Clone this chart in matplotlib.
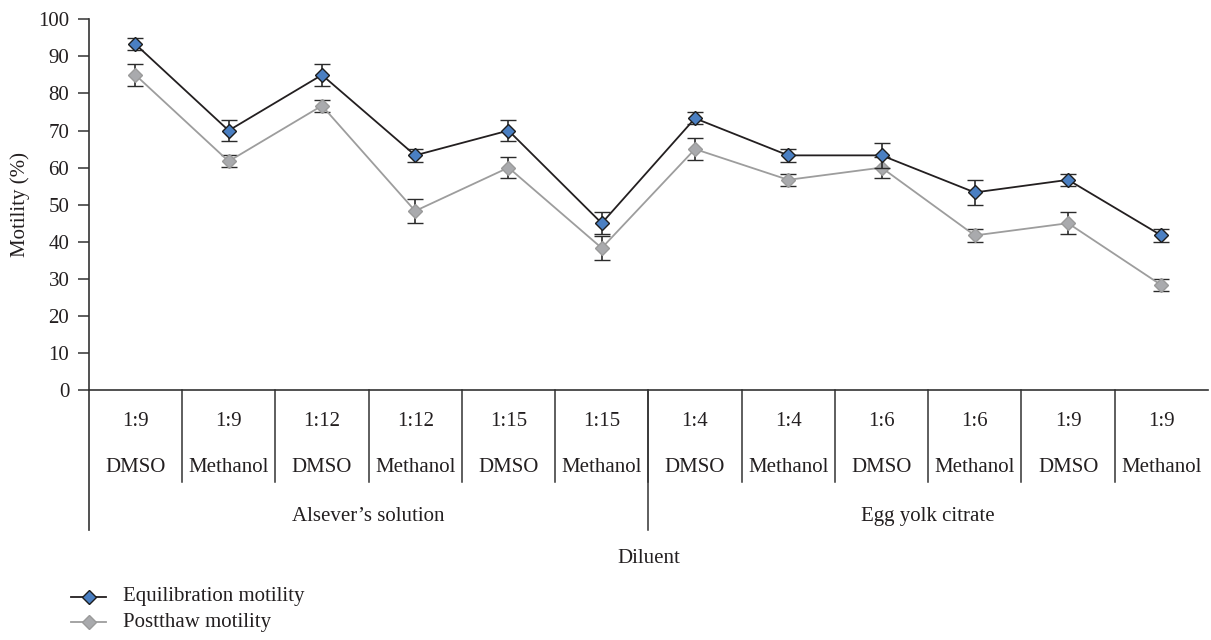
import matplotlib
matplotlib.use("Agg")
import matplotlib.pyplot as plt
from matplotlib.lines import Line2D

# Categories: ratio, cryoprotectant, diluent group
ratios = ["1:9", "1:9", "1:12", "1:12", "1:15", "1:15",
          "1:4", "1:4", "1:6", "1:6", "1:9", "1:9"]
cryo = ["DMSO", "Methanol"] * 6
groups = ["Alsever\u2019s solution", "Egg yolk citrate"]
group_sizes = [6, 6]

equil_mean = [93.3, 70.0, 85.0, 63.3, 70.0, 45.0, 73.3, 63.3, 63.3, 53.3, 56.7, 41.7]
equil_err = [1.67, 2.89, 2.89, 1.67, 2.89, 2.89, 1.67, 1.67, 3.33, 3.33, 1.67, 1.67]
post_mean = [85.0, 61.7, 76.7, 48.3, 60.0, 38.3, 65.0, 56.7, 60.0, 41.7, 45.0, 28.3]
post_err = [2.89, 1.67, 1.67, 3.33, 2.89, 3.33, 2.89, 1.67, 2.89, 1.67, 2.89, 1.67]

series_names = ["Equilibration motility", "Postthaw motility"]
yticks = list(range(0, 101, 10))

plt.rcParams["font.family"] = ["Liberation Serif", "DejaVu Serif"]
FS = 15

text_col = "#231f20"
W, H = 1211, 640
fig = plt.figure(figsize=(W / 100, H / 100), dpi=100)
ax = fig.add_axes([0.0733, 0.3906, 0.9242, 0.5792])

n = len(ratios)
x = [i + 0.5 for i in range(n)]

equil_style = dict(color="#231f20", lw=1.3, marker="D", ms=7.2,
                   mfc="#4a7fc2", mec="#1d1d1d", mew=1.0)
post_style = dict(color="#9d9d9d", lw=1.3, marker="D", ms=7.2,
                  mfc="#a9aaad", mec="#9a9a9a", mew=1.0)
err_style = dict(ecolor="#2b2b2b", elinewidth=1.2, capsize=6, capthick=1.2)

ax.errorbar(x, equil_mean, yerr=equil_err, zorder=4, **equil_style, **err_style)
ax.errorbar(x, post_mean, yerr=post_err, zorder=3, **post_style, **err_style)

ax.set_xlim(0, n)
ax.set_ylim(0, 100)
ax.set_yticks(yticks)
ax.tick_params(axis="y", direction="out", length=8, width=1.1, color="#333333",
               labelcolor=text_col, labelsize=FS, pad=6)
ax.set_xticks([])
for s in ("top", "right"):
    ax.spines[s].set_visible(False)
for s in ("left", "bottom"):
    ax.spines[s].set_color("#333333")
    ax.spines[s].set_linewidth(1.2)
ax.set_ylabel("Motility (%)", color=text_col, fontsize=FS, labelpad=6)

# Category table below the axis
tr = ax.get_xaxis_transform()
row_bottom = -0.248
group_bottom = -0.378
for i in range(1, n):
    ax.add_line(Line2D([i, i], [0, row_bottom], transform=tr, color="#333333",
                       lw=1.1, clip_on=False))
ax.add_line(Line2D([0, 0], [0, group_bottom], transform=tr, color="#333333",
                   lw=1.2, clip_on=False))
start = 0
for g, size in zip(groups, group_sizes):
    if start > 0:
        ax.add_line(Line2D([start, start], [0, group_bottom], transform=tr,
                           color="#333333", lw=1.1, clip_on=False))
    ax.text(start + size / 2, -0.340, g, transform=tr, ha="center", va="center",
            color=text_col, fontsize=FS)
    start += size
for xi, r, c in zip(x, ratios, cryo):
    ax.text(xi, -0.086, r, transform=tr, ha="center", va="center",
            color=text_col, fontsize=FS)
    ax.text(xi, -0.208, c, transform=tr, ha="center", va="center",
            color=text_col, fontsize=FS)
ax.text(n / 2, -0.455, "Diluent", transform=tr, ha="center", va="center",
        color=text_col, fontsize=FS)

# Legend at lower left, drawn in figure pixel coordinates
for (ypx, style, name) in [(597, equil_style, series_names[0]),
                           (622, post_style, series_names[1])]:
    yf = 1 - ypx / H
    fig.add_artist(Line2D([71 / W, 106 / W], [yf, yf], transform=fig.transFigure,
                          color=style["color"], lw=style["lw"]))
    fig.add_artist(Line2D([88.5 / W], [yf], transform=fig.transFigure,
                          linestyle="none", marker="D", ms=style["ms"],
                          mfc=style["mfc"], mec=style["mec"], mew=style["mew"]))
    fig.text(123 / W, yf, name, ha="left", va="center", color=text_col, fontsize=FS)

fig.savefig("out.png", dpi=100)
